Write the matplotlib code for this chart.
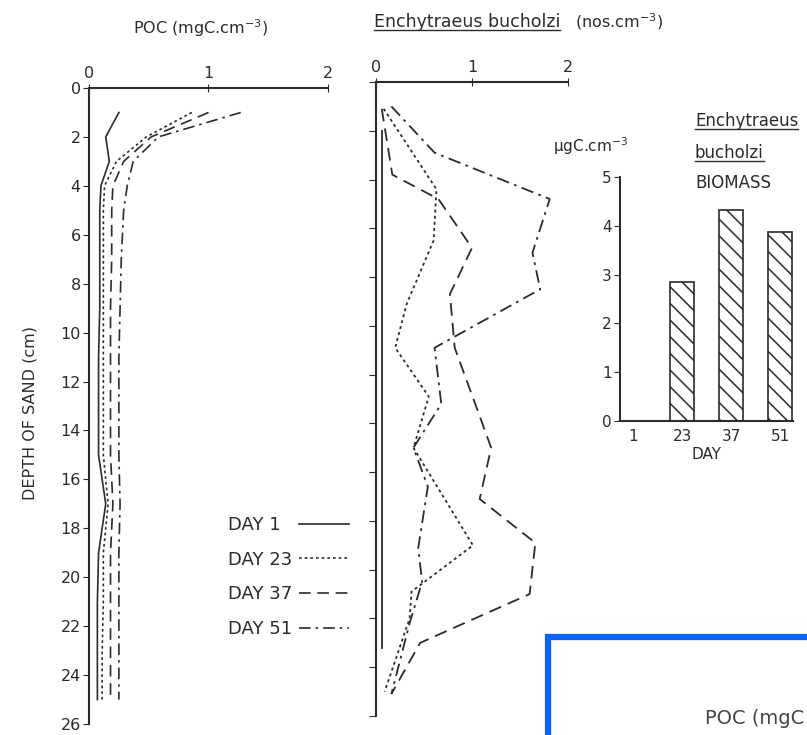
import matplotlib
matplotlib.use("Agg")
import matplotlib.pyplot as plt
from matplotlib.lines import Line2D
from matplotlib.patches import Rectangle

plt.rcParams['font.family'] = ['DejaVu Sans']
plt.rcParams['hatch.linewidth'] = 1.1
ink = '#2b2b2b'

# POC profiles (mgC.cm-3) against depth of sand (cm)
poc_depth = [1, 2, 3, 4, 5, 7, 9, 11, 13, 15, 17, 19, 21, 23, 25]
poc_day1 = [0.25, 0.14, 0.17, 0.10, 0.09, 0.09, 0.09, 0.08, 0.08, 0.08, 0.14, 0.08, 0.07, 0.07, 0.07]
poc_day23 = [0.86, 0.48, 0.23, 0.13, 0.12, 0.12, 0.12, 0.12, 0.12, 0.12, 0.16, 0.12, 0.12, 0.11, 0.11]
poc_day37 = [1.00, 0.52, 0.29, 0.20, 0.19, 0.19, 0.18, 0.18, 0.18, 0.18, 0.20, 0.18, 0.18, 0.18, 0.18]
poc_day51 = [1.27, 0.58, 0.37, 0.32, 0.29, 0.27, 0.26, 0.25, 0.25, 0.25, 0.26, 0.25, 0.25, 0.25, 0.25]

# Enchytraeus bucholzi (nos.cm-3) against depth
ench_day1_depth = [2.0, 23.2]
ench_day1 = [0.06, 0.06]
ench_day23_depth = [1.1, 4.4, 6.5, 9.1, 10.9, 12.9, 15.0, 19.0, 20.9, 22.0, 25.0]
ench_day23 = [0.08, 0.63, 0.60, 0.32, 0.20, 0.55, 0.39, 1.01, 0.37, 0.35, 0.09]
ench_day37_depth = [1.1, 3.8, 4.8, 6.8, 8.7, 10.9, 15.0, 17.1, 18.9, 21.0, 23.0, 25.1]
ench_day37 = [0.06, 0.17, 0.65, 1.00, 0.77, 0.82, 1.20, 1.08, 1.66, 1.60, 0.46, 0.16]
ench_day51_depth = [1.0, 2.9, 4.8, 7.0, 8.5, 10.9, 13.2, 15.0, 16.6, 19.1, 20.5, 22.2, 25.1]
ench_day51 = [0.16, 0.61, 1.81, 1.63, 1.71, 0.61, 0.68, 0.39, 0.54, 0.44, 0.48, 0.35, 0.16]

# biomass inset
biomass_days = ['1', '23', '37', '51']
biomass = [0, 2.85, 4.33, 3.87]

labels = ['DAY 1  ', 'DAY 23', 'DAY 37', 'DAY 51']
styles = ['-', (0, (1.6, 1.8)), (0, (7, 4)), (0, (7, 3, 1.5, 3))]

W, H = 807, 735
fig = plt.figure(figsize=(W / 100, H / 100), dpi=100)


def frac(x0, x1, ytop, ybot):
    return [x0 / W, 1 - ybot / H, (x1 - x0) / W, (ybot - ytop) / H]


# left panel: POC
ax1 = fig.add_axes(frac(89, 328, 88, 724))
for vals, ls, lab in zip([poc_day1, poc_day23, poc_day37, poc_day51], styles, labels):
    ax1.plot(vals, poc_depth, color=ink, lw=1.2, linestyle=ls, label=lab)
ax1.set_xlim(0, 2)
ax1.set_ylim(26, 0)
ax1.set_xticks([0, 1, 2])
ax1.set_yticks(range(0, 27, 2))
ax1.xaxis.tick_top()
ax1.spines[['right', 'bottom']].set_visible(False)
ax1.tick_params(axis='x', direction='inout', length=6, labelsize=11.5, pad=2, colors=ink)
ax1.tick_params(axis='y', direction='out', length=4, labelsize=11.5, pad=2, colors=ink)
for s in ['left', 'top']:
    ax1.spines[s].set_color(ink)
    ax1.spines[s].set_linewidth(1.5)
fig.text(30 / W, 1 - 413 / H, 'DEPTH OF SAND (cm)', rotation=90, ha='center', va='center',
         fontsize=11.5, color=ink)
fig.text(133 / W, 1 - 28 / H, 'POC (mgC.cm$^{-3}$)', ha='left', va='center', fontsize=11.5, color=ink)

leg = ax1.legend(loc='upper left', bbox_to_anchor=(228 / W, 1 - 516 / H), bbox_transform=fig.transFigure,
                 frameon=False, markerfirst=False, fontsize=13, handlelength=2.8, handletextpad=0.35,
                 labelspacing=0.92, borderpad=0, borderaxespad=0)
for t in leg.get_texts():
    t.set_color(ink)

# middle panel: Enchytraeus bucholzi numbers
ax2 = fig.add_axes(frac(376, 568, 82, 716))
for vals, dep, ls in zip([ench_day1, ench_day23, ench_day37, ench_day51],
                         [ench_day1_depth, ench_day23_depth, ench_day37_depth, ench_day51_depth], styles):
    ax2.plot(vals, dep, color=ink, lw=1.3, linestyle=ls)
ax2.set_xlim(0, 2)
ax2.set_ylim(26, 0)
ax2.set_xticks([0, 1, 2])
ax2.set_yticks(range(0, 27, 2))
ax2.xaxis.tick_top()
ax2.spines[['right', 'bottom']].set_visible(False)
ax2.tick_params(axis='x', direction='inout', length=6, labelsize=11.5, pad=2, colors=ink)
ax2.tick_params(axis='y', direction='out', length=5, labelleft=False, colors=ink)
for s in ['left', 'top']:
    ax2.spines[s].set_color(ink)
    ax2.spines[s].set_linewidth(1.5)
t_ench = fig.text(374 / W, 1 - 22 / H, 'Enchytraeus bucholzi', ha='left', va='center', fontsize=12.5, color=ink)
fig.text(575 / W, 1 - 22 / H, '(nos.cm$^{-3}$)', ha='left', va='center', fontsize=11.5, color=ink)

# inset: biomass bars
ax3 = fig.add_axes(frac(620, 793, 177, 421))
ax3.bar(range(len(biomass)), biomass, width=0.49, color='white', edgecolor=ink, hatch='\\\\', lw=1.2,
        clip_on=False)
ax3.set_xlim(-0.27, 3.26)
ax3.set_ylim(0, 5)
ax3.set_xticks(range(len(biomass)))
ax3.set_xticklabels(biomass_days)
ax3.set_yticks(range(6))
ax3.spines[['right', 'top']].set_visible(False)
for s in ['left', 'bottom']:
    ax3.spines[s].set_color(ink)
    ax3.spines[s].set_linewidth(1.5)
ax3.tick_params(axis='x', length=0, labelsize=11, pad=6, colors=ink)
ax3.tick_params(axis='y', direction='out', length=4, labelsize=11, pad=2, colors=ink)
ax3.set_xlabel('DAY', fontsize=11, color=ink, labelpad=2)
fig.text(553 / W, 1 - 146 / H, '\u03bcgC.cm$^{-3}$', ha='left', va='center', fontsize=11, color=ink)
t_b1 = fig.text(695 / W, 1 - 121 / H, 'Enchytraeus', ha='left', va='center', fontsize=12, color=ink)
t_b2 = fig.text(695 / W, 1 - 153 / H, 'bucholzi', ha='left', va='center', fontsize=12, color=ink)
fig.text(695 / W, 1 - 183 / H, 'BIOMASS', ha='left', va='center', fontsize=12, color=ink)

# underlines under the species names
fig.canvas.draw()
r = fig.canvas.get_renderer()
for t in [t_ench, t_b1, t_b2]:
    bb = t.get_window_extent(r)
    fig.add_artist(Line2D([bb.x0 / W, bb.x1 / W], [(bb.y0 + 1) / H] * 2, transform=fig.transFigure,
                          color=ink, lw=1))

# blue frame overlapping the bottom right corner
fig.add_artist(Rectangle((548 / W, -0.2), 0.6, 0.2 + 1 - 637 / H, transform=fig.transFigure,
                         fill=False, edgecolor='#0b63f6', lw=4.5, clip_on=False))
fig.text(705 / W, 1 - 718 / H, 'POC (mgC', ha='left', va='center', fontsize=14, color='#444444')

fig.savefig('out.png', dpi=100)
